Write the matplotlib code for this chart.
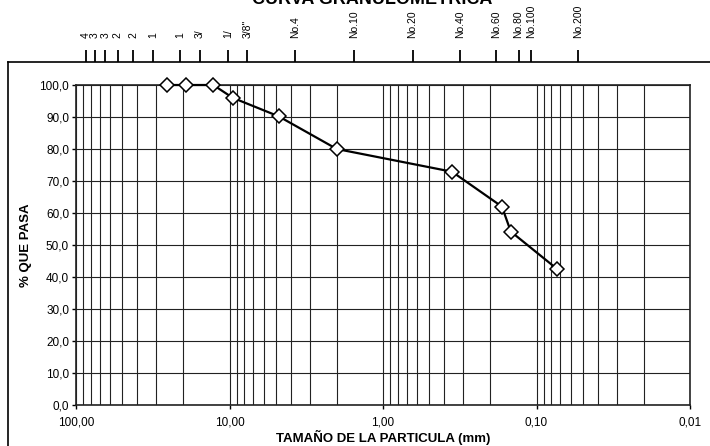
import matplotlib
matplotlib.use("Agg")
import matplotlib.pyplot as plt
from matplotlib.ticker import FixedLocator, FuncFormatter, LogLocator, NullFormatter
from matplotlib.lines import Line2D

plt.rcParams['font.family'] = ['Liberation Sans', 'DejaVu Sans']

# datos de la curva granulometrica
tamano_mm = [25.4, 19.1, 12.75, 9.53, 4.78, 2.0, 0.355, 0.168, 0.147, 0.073]
pct_pasa = [100.0, 100.0, 100.0, 96.0, 90.2, 80.0, 72.9, 62.0, 54.2, 42.4]

# tamices de la escala superior
tamiz_mm = [101.6, 88.9, 76.2, 63.5, 50.8, 38.1, 25.4, 19.05, 12.7, 9.525,
            4.75, 2.0, 0.85, 0.425, 0.25, 0.18, 0.15, 0.075]
tamiz_lbl = ['4', '3', '3', '2', '2', '1', '1', '3/', '1/', '3/8"',
             'No.4', 'No.10', 'No.20', 'No.40', 'No.60', 'No.80', 'No.100', 'No.200']

W, H = 710, 446
fig = plt.figure(figsize=(W / 100, H / 100), dpi=100)

# area del grafico principal (pixeles)
L, R, T, B = 76, 690, 85, 405
ax = fig.add_axes([L / W, 1 - B / H, (R - L) / W, (B - T) / H])
ax.set_xscale('log')
ax.set_xlim(100, 0.01)
ax.set_ylim(0, 100)

ax.plot(tamano_mm, pct_pasa, color='black', lw=1.6, marker='D', ms=7,
        mfc='white', mec='black', mew=1.1, zorder=5, clip_on=False)

ax.xaxis.set_major_locator(FixedLocator([100, 10, 1, 0.1, 0.01]))
ax.xaxis.set_minor_locator(LogLocator(base=10, subs=range(2, 10)))
ax.xaxis.set_minor_formatter(NullFormatter())
ax.xaxis.set_major_formatter(FuncFormatter(lambda v, p: f"{v:.2f}".replace('.', ',')))
ax.yaxis.set_major_locator(FixedLocator(range(0, 101, 10)))
ax.yaxis.set_major_formatter(FuncFormatter(lambda v, p: f"{v:.1f}".replace('.', ',')))

ax.grid(True, which='both', axis='x', color='#222222', lw=0.8)
ax.grid(True, which='major', axis='y', color='#222222', lw=0.8)
ax.tick_params(which='major', length=3, width=1, labelsize=8.5, color='black')
ax.tick_params(axis='y', pad=2)
ax.tick_params(axis='x', pad=5)
ax.tick_params(which='minor', length=0)
for s in ax.spines.values():
    s.set_color('#222222')
    s.set_linewidth(1.2)

ax.set_xlabel('TAMAÑO DE LA PARTICULA (mm)', fontsize=9.5, fontweight='bold', labelpad=1)
ax.set_ylabel('% QUE PASA', fontsize=9.5, fontweight='bold', labelpad=5)

# escala de tamices arriba
xt0, xt1 = 8, 710
a, b = 401.4, 157.3
lo = 10 ** (-(xt0 - a) / b)
hi = 10 ** (-(xt1 - a) / b)
axt = fig.add_axes([xt0 / W, 1 - 62 / H, (xt1 - xt0) / W, 24 / H])
axt.set_xscale('log')
axt.set_xlim(lo, hi)
axt.set_ylim(0, 1)
axt.patch.set_visible(False)
for k in ['top', 'right', 'left']:
    axt.spines[k].set_visible(False)
axt.spines['bottom'].set_linewidth(1.2)
axt.set_yticks([])
axt.xaxis.set_major_locator(FixedLocator(tamiz_mm))
axt.xaxis.set_minor_locator(FixedLocator([]))
axt.tick_params(axis='x', direction='in', length=8.5, width=1.3, labelbottom=False)
for d, t in zip(tamiz_mm, tamiz_lbl):
    axt.text(d, 1.0, t, rotation=90, ha='center', va='bottom', fontsize=7.5)

# borde izquierdo del area de grafico
fig.add_artist(Line2D([xt0 / W, xt0 / W], [0, 1 - 62 / H], color='black', lw=1.2))

fig.text(372 / W, 1 - 4 / H, 'CURVA GRANULOMETRICA', ha='center', va='baseline',
         fontsize=13, fontweight='bold')

fig.savefig('out.png', dpi=100)
